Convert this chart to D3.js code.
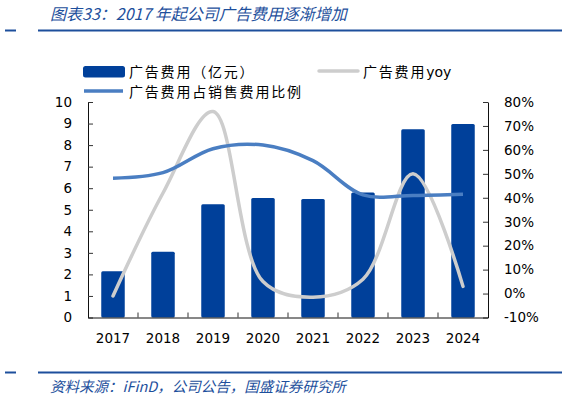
<!DOCTYPE html>
<html>
<head>
<meta charset="utf-8">
<script src="https://cdn.jsdelivr.net/npm/d3@7"></script>
<style>
  body { margin: 0; background: #fff; }
  svg { display: block; font-family: "DejaVu Sans", sans-serif; }
</style>
</head>
<body>
<script>
var years = ['2017', '2018', '2019', '2020', '2021', '2022', '2023', '2024'];
var adCost = [2.15, 3.05, 5.25, 5.55, 5.5, 5.8, 8.73, 8.98];
var adYoy = [-1, 42, 76, 5, -1.5, 6, 50, 3];
var adRatio = [48.2, 50.5, 60.5, 62, 55.5, 41.2, 41, 41.5];
var leftTicks = [0, 1, 2, 3, 4, 5, 6, 7, 8, 9, 10];
var rightTicks = [-10, 0, 10, 20, 30, 40, 50, 60, 70, 80];

var W = 562, H = 398;
var plot = {left: 88, right: 488, top: 102, bottom: 317.5};
var blue = '#1d4f9c';

var svg = d3.select('body')
    .append('svg')
    .attr('width', W)
    .attr('height', H);

// header / footer rules
[30.5, 372.5].forEach(function(y){
    svg.append('line').attr('x1', 5).attr('x2', 16).attr('y1', y).attr('y2', y)
        .attr('stroke', blue).attr('stroke-width', 2);
    svg.append('line').attr('x1', 38).attr('x2', W).attr('y1', y).attr('y2', y)
        .attr('stroke', blue).attr('stroke-width', 2);
});

svg.append('text')
    .attr('x', 50).attr('y', 19.5)
    .style('font-family', '"Noto Sans CJK SC", sans-serif')
    .style('font-style', 'italic')
    .style('font-size', '16px')
    .attr('fill', blue)
    .text('图表33：2017 年起公司广告费用逐渐增加');

svg.append('text')
    .attr('x', 50).attr('y', 392)
    .style('font-family', '"Noto Sans CJK SC", sans-serif')
    .style('font-style', 'italic')
    .style('font-size', '14.5px')
    .attr('fill', blue)
    .text('资料来源：iFinD，公司公告，国盛证券研究所');

var x = d3.scaleBand()
    .domain(years)
    .range([plot.left, plot.right])
    .paddingInner(0.53)
    .paddingOuter(0.265);

var xc = d3.scalePoint()
    .domain(years)
    .range([plot.left, plot.right])
    .padding(0.5);

var y = d3.scaleLinear().domain([0, 10]).range([plot.bottom, plot.top]);
var y2 = d3.scaleLinear().domain([-10, 80]).range([plot.bottom, plot.top]);

// bars
svg.selectAll('.bar')
    .data(adCost)
    .enter()
    .append('rect')
    .attr('class', 'bar')
    .attr('x', function(d, i){ return x(years[i]); })
    .attr('y', function(d){ return y(d); })
    .attr('width', x.bandwidth())
    .attr('height', function(d){ return y(0) - y(d); })
    .attr('rx', 1.5)
    .style('fill', '#00409a');

// axes
var axisL = svg.append('g')
    .attr('transform', 'translate(' + plot.left + ',0)')
    .call(d3.axisRight(y).tickValues(leftTicks).tickSize(5).tickSizeOuter(0));
axisL.selectAll('text').attr('x', -16).attr('text-anchor', 'end');

var axisR = svg.append('g')
    .attr('transform', 'translate(' + plot.right + ',0)')
    .call(d3.axisLeft(y2).tickValues(rightTicks).tickSize(5).tickSizeOuter(0)
        .tickFormat(function(d){ return d + '%'; }));
axisR.selectAll('text').attr('x', 16).attr('text-anchor', 'start');

var axisB = svg.append('g')
    .attr('transform', 'translate(0,' + plot.bottom + ')')
    .call(d3.axisBottom(x).tickSize(0).tickSizeOuter(0));
axisB.selectAll('text').attr('y', 16);

// inner ticks between categories
svg.selectAll('.xtick')
    .data(years.slice(1))
    .enter()
    .append('line')
    .attr('class', 'xtick')
    .attr('x1', function(d){ return xc(d) - xc.step() / 2; })
    .attr('x2', function(d){ return xc(d) - xc.step() / 2; })
    .attr('y1', plot.bottom)
    .attr('y2', plot.bottom - 5)
    .attr('stroke', '#333');

[axisL, axisR, axisB].forEach(function(g){
    g.selectAll('text')
        .style('font-family', '"DejaVu Sans", sans-serif')
        .style('font-size', '13.5px')
        .attr('fill', '#000');
    g.selectAll('line').attr('stroke', '#333');
    g.select('.domain').attr('stroke', '#111');
});

// lines
var line = d3.line()
    .x(function(d, i){ return xc(years[i]); })
    .y(function(d){ return y2(d); })
    .curve(d3.curveCatmullRom.alpha(0.5));

svg.append('path')
    .datum(adYoy)
    .attr('d', line)
    .attr('fill', 'none')
    .attr('stroke', '#cdcdcd')
    .attr('stroke-width', 3.5)
    .attr('stroke-linecap', 'round');

svg.append('path')
    .datum(adRatio)
    .attr('d', line)
    .attr('fill', 'none')
    .attr('stroke', '#4a7ec2')
    .attr('stroke-width', 3.5);

// legend
var legend = svg.append('g')
    .style('font-family', '"Noto Sans CJK SC", sans-serif')
    .style('font-size', '14px');

legend.append('rect')
    .attr('x', 83).attr('y', 66).attr('width', 42).attr('height', 11.5)
    .attr('rx', 2.5)
    .style('fill', '#00409a');
legend.append('text').attr('x', 129).attr('y', 76.5)
    .style('letter-spacing', '1.8px')
    .text('广告费用（亿元）');

legend.append('line')
    .attr('x1', 319).attr('x2', 358).attr('y1', 71).attr('y2', 71)
    .attr('stroke', '#cdcdcd').attr('stroke-width', 3.5).attr('stroke-linecap', 'round');
var yoyText = legend.append('text').attr('x', 363).attr('y', 76.5);
yoyText.append('tspan').style('letter-spacing', '1.8px').text('广告费用');
yoyText.append('tspan').style('font-family', '"DejaVu Sans", sans-serif').text('yoy');

legend.append('line')
    .attr('x1', 84).attr('x2', 123).attr('y1', 91).attr('y2', 91)
    .attr('stroke', '#4a7ec2').attr('stroke-width', 3.5);
legend.append('text').attr('x', 129).attr('y', 96.5)
    .style('letter-spacing', '1.8px')
    .text('广告费用占销售费用比例');
</script>
</body>
</html>
